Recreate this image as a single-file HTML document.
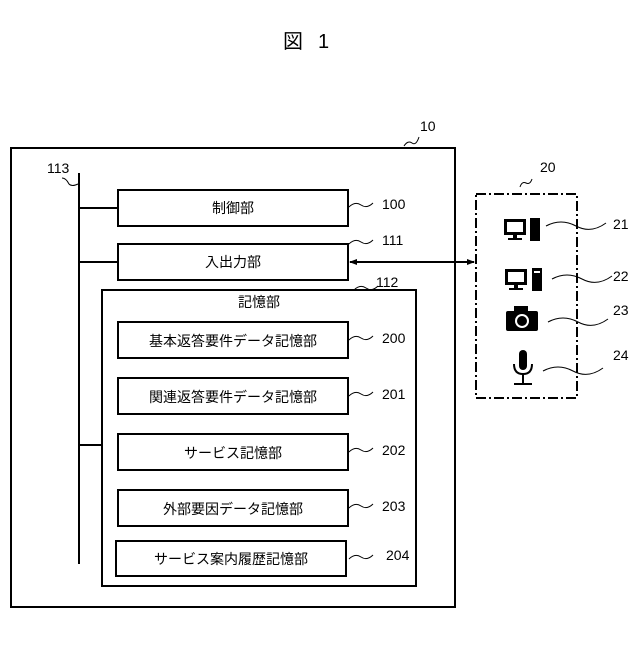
<!DOCTYPE html>
<html><head><meta charset="utf-8"><style>
body{margin:0;background:#fff;}
svg text{font-family:"Liberation Sans","Noto Sans CJK JP",sans-serif;fill:#000;}
</style></head><body>
<svg width="640" height="640" viewBox="0 0 640 640" xmlns="http://www.w3.org/2000/svg">
<defs><marker id="a" markerWidth="8" markerHeight="8" refX="7" refY="4" orient="auto-start-reverse" markerUnits="userSpaceOnUse"><path d="M0,1 L8,4 L0,7z" fill="#000"/></marker></defs>
<text x="283" y="48" font-size="20">図</text><text x="318" y="48" font-size="20">1</text>
<g fill="none" stroke="#000" stroke-width="2">
<rect x="11" y="148" width="444" height="459"/>
<rect x="118" y="190" width="230" height="36"/>
<rect x="118" y="244" width="230" height="36"/>
<rect x="102" y="290" width="314" height="296"/>
<rect x="118" y="322" width="230" height="36"/>
<rect x="118" y="378" width="230" height="36"/>
<rect x="118" y="434" width="230" height="36"/>
<rect x="118" y="490" width="230" height="36"/>
<rect x="116" y="541" width="230" height="35"/>
<line x1="79" y1="173" x2="79" y2="564"/>
<line x1="79" y1="208" x2="118" y2="208"/>
<line x1="79" y1="262" x2="118" y2="262"/>
<line x1="79" y1="445" x2="102" y2="445"/>
<rect x="476" y="194" width="101" height="204" stroke-dasharray="10,3,2,3"/>
<line x1="350" y1="262" x2="474" y2="262" marker-start="url(#a)" marker-end="url(#a)"/>
</g>
<g fill="none" stroke="#000" stroke-width="1">
<path d="M404,146 q4,-6 8,-3 q4,3 7,-6"/>
<path d="M62,178 q4,0 7,6 q3,3 9,0"/>
<path d="M349,207 q6,-6 12,-2 q6,4 12,-2"/>
<path d="M349,244 q6,-6 12,-2 q6,4 12,-2"/>
<path d="M354,290 q6,-6 12,-2 q6,4 12,-2"/>
<path d="M349,340 q6,-6 12,-2 q6,4 12,-2"/>
<path d="M349,396 q6,-6 12,-2 q6,4 12,-2"/>
<path d="M349,452 q6,-6 12,-2 q6,4 12,-2"/>
<path d="M349,508 q6,-6 12,-2 q6,4 12,-2"/>
<path d="M349,559 q6,-6 12,-2 q6,4 12,-2"/>
<path d="M520,187 q2,-6 6,-4 q4,2 6,-4"/>
<path d="M546,226 q15,-8 30,0 q15,8 30,-3"/>
<path d="M552,279 q15,-8 30,0 q15,8 30,-3"/>
<path d="M548,322 q15,-8 30,0 q15,8 30,-3"/>
<path d="M543,371 q15,-8 30,0 q15,8 30,-3"/>
</g>
<g font-size="14" text-anchor="middle">
<text x="233" y="213">制御部</text>
<text x="233" y="267">入出力部</text>
<text x="259" y="307">記憶部</text>
<text x="233" y="346">基本返答要件データ記憶部</text>
<text x="233" y="402">関連返答要件データ記憶部</text>
<text x="233" y="458">サービス記憶部</text>
<text x="233" y="514">外部要因データ記憶部</text>
<text x="231" y="564">サービス案内履歴記憶部</text>
</g>
<g font-size="14">
<text x="420" y="131">10</text>
<text x="47" y="173">113</text>
<text x="382" y="209">100</text>
<text x="382" y="245">111</text>
<text x="376" y="287">112</text>
<text x="382" y="343">200</text>
<text x="382" y="399">201</text>
<text x="382" y="455">202</text>
<text x="382" y="511">203</text>
<text x="386" y="560">204</text>
<text x="540" y="172">20</text>
<text x="613" y="229">21</text>
<text x="613" y="281">22</text>
<text x="613" y="315">23</text>
<text x="613" y="360">24</text>
</g>
<g fill="#000">
<rect x="504" y="219" width="22" height="16"/><rect x="507" y="222" width="16" height="10" fill="#fff"/>
<rect x="513" y="235" width="4" height="4"/><rect x="508" y="238" width="14" height="2"/>
<rect x="530" y="218" width="10" height="23"/>
<rect x="505" y="269" width="22" height="16"/><rect x="508" y="272" width="16" height="10" fill="#fff"/>
<rect x="514" y="285" width="4" height="4"/><rect x="509" y="288" width="14" height="2"/>
<rect x="532" y="268" width="10" height="23"/><rect x="534" y="271" width="6" height="2" fill="#fff"/>
<rect x="506" y="311" width="32" height="20" rx="2"/><rect x="514" y="306" width="14" height="6"/>
<circle cx="522" cy="321" r="7" fill="#fff"/><circle cx="522" cy="321" r="5"/>
<rect x="519" y="350" width="8" height="20" rx="4"/>
<path d="M514,364 q0,10 9,10 q9,0 9,-10" fill="none" stroke="#000" stroke-width="2"/>
<rect x="522" y="374" width="2" height="10"/><rect x="514" y="383" width="18" height="2"/>
</g>
</svg>
</body></html>
